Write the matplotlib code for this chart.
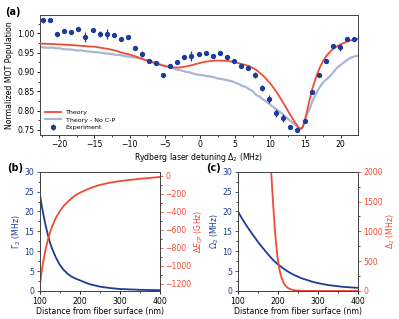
import numpy as np
import matplotlib
matplotlib.use('Agg')
from matplotlib import pyplot as plt
from matplotlib.ticker import AutoMinorLocator

# (a) experiment
detuning = np.linspace(-22.3, 21.9, 45)
population = [1.033, 1.033, 0.999, 1.005, 1.003, 1.012, 0.990, 1.009, 0.998, 0.998,
              0.994, 0.985, 0.990, 0.962, 0.946, 0.929, 0.922, 0.893, 0.916, 0.926,
              0.938, 0.941, 0.946, 0.948, 0.941, 0.950, 0.938, 0.929, 0.915, 0.909,
              0.892, 0.859, 0.829, 0.793, 0.780, 0.758, 0.750, 0.774, 0.849, 0.893,
              0.928, 0.967, 0.963, 0.986, 0.986]
pop_err = [0.006, 0.005, 0.004, 0.004, 0.004, 0.004, 0.014, 0.005, 0.008, 0.014,
           0.004, 0.004, 0.004, 0.004, 0.008, 0.004, 0.004, 0.004, 0.005, 0.004,
           0.004, 0.014, 0.004, 0.004, 0.006, 0.004, 0.004, 0.004, 0.004, 0.005,
           0.008, 0.008, 0.010, 0.010, 0.010, 0.004, 0.006, 0.005, 0.004, 0.004,
           0.004, 0.004, 0.008, 0.004, 0.004]

# (a) theory
th_x = [-22.7, -21, -20, -18, -16, -15, -14, -13, -12, -11, -10, -9, -8, -7, -6, -5,
        -4, -3, -2, -1, 0, 1, 2, 3, 4, 5, 6, 7, 8, 9, 10, 11, 12, 13, 13.5, 14, 14.3,
        14.6, 15, 15.5, 16, 16.5, 17, 17.5, 18, 18.5, 19, 20, 21, 22, 22.45]
th_y = [0.973, 0.972, 0.971, 0.969, 0.966, 0.965, 0.962, 0.959, 0.955, 0.949, 0.945,
        0.939, 0.932, 0.926, 0.920, 0.915, 0.912, 0.911, 0.914, 0.918, 0.923, 0.927,
        0.929, 0.929, 0.928, 0.925, 0.920, 0.915, 0.905, 0.890, 0.870, 0.845, 0.815,
        0.784, 0.770, 0.757, 0.752, 0.757, 0.780, 0.822, 0.858, 0.886, 0.910, 0.928,
        0.942, 0.952, 0.961, 0.971, 0.979, 0.984, 0.985]

nocp_x = [-22.7, -22.2, -21.5, -21, -20.5, -20, -19.5, -19, -18.5, -18, -17.5, -17,
          -16.5, -16, -15.5, -15, -14.5, -14, -13.5, -13, -12.5, -12, -11.5, -11,
          -10.5, -10, -9.5, -9, -8.5, -8, -7.5, -7, -6.5, -6, -5.5, -5, -4.5, -4,
          -3.5, -3, -2.5, -2, -1.5, -1, -0.5, 0, 0.5, 1, 1.5, 2, 2.5, 3, 3.5, 4,
          4.5, 5, 5.5, 6, 6.5, 7, 7.5, 8, 8.5, 9, 9.5, 10, 10.5, 11, 11.5, 12,
          12.5, 13, 13.5, 14, 14.3, 14.6, 15, 15.5, 16, 16.5, 17, 17.5, 18, 18.5,
          19, 19.5, 20, 20.5, 21, 21.5, 22, 22.45]
nocp_y = [0.965, 0.963, 0.962, 0.963, 0.961, 0.961, 0.959, 0.958, 0.958, 0.957,
          0.955, 0.956, 0.954, 0.953, 0.952, 0.951, 0.951, 0.949, 0.948, 0.947,
          0.946, 0.944, 0.944, 0.942, 0.940, 0.939, 0.938, 0.936, 0.935, 0.932,
          0.930, 0.927, 0.925, 0.922, 0.918, 0.916, 0.913, 0.911, 0.907, 0.905,
          0.903, 0.900, 0.899, 0.896, 0.893, 0.892, 0.891, 0.889, 0.888, 0.886,
          0.883, 0.882, 0.880, 0.878, 0.876, 0.872, 0.869, 0.864, 0.861, 0.855,
          0.850, 0.840, 0.836, 0.828, 0.823, 0.815, 0.808, 0.800, 0.795, 0.786,
          0.779, 0.771, 0.763, 0.755, 0.752, 0.757, 0.782, 0.800, 0.825, 0.843,
          0.860, 0.873, 0.881, 0.889, 0.900, 0.911, 0.918, 0.925, 0.932, 0.937,
          0.940, 0.942]

# (b)
dist_b = [100, 105, 110, 115, 120, 125, 130, 140, 150, 160, 170, 180, 190, 200, 225,
          250, 275, 300, 350, 400]
gamma2 = [24.6, 21.5, 18.8, 16.4, 14.3, 12.4, 10.9, 8.5, 6.6, 5.3, 4.3, 3.6, 3.1, 2.7,
          1.7, 1.1, 0.75, 0.5, 0.3, 0.2]
e_cp = [-1230, -1060, -925, -810, -720, -640, -575, -470, -395, -335, -290, -250, -215,
        -190, -140, -103, -78, -60, -35, -15]

# (c)
dist_c = [100, 110, 120, 130, 140, 150, 160, 170, 180, 190, 200, 212, 225, 237, 250,
          262, 275, 287, 300, 312, 325, 337, 350, 362, 375, 387, 400]
omega2 = [20.1, 18.3, 16.7, 15.2, 13.8, 12.4, 11.1, 9.9, 8.7, 7.6, 6.7, 5.8, 4.9, 4.2,
          3.6, 3.1, 2.7, 2.3, 2.0, 1.75, 1.5, 1.35, 1.2, 1.05, 0.95, 0.87, 0.8]
dist_d = [180, 183, 186, 189, 192, 195, 198, 201, 205, 210, 215, 220, 225, 230, 238,
          250, 265, 290, 330, 400]
delta2 = [2600, 2050, 1700, 1380, 1080, 840, 640, 480, 330, 205, 130, 82, 52, 33, 17,
          7, 2.5, 0.6, 0.1, 0]

RED = '#f24a35'
BLUE = '#1c3c99'
GRAY = '#a9b7d2'
FS = 5.6

plt.rcParams['font.size'] = FS
plt.rcParams['axes.linewidth'] = 0.7
plt.rcParams['axes.edgecolor'] = '#444444'
for ax_ in 'xy':
    plt.rcParams[ax_ + 'tick.major.size'] = 2.5
    plt.rcParams[ax_ + 'tick.minor.size'] = 1.5
    plt.rcParams[ax_ + 'tick.major.width'] = 0.6
    plt.rcParams[ax_ + 'tick.minor.width'] = 0.5
    plt.rcParams[ax_ + 'tick.major.pad'] = 1.5

fig = plt.figure(figsize=(3.99, 3.19), dpi=100)

# ---- panel a
ax = fig.add_axes([0.100, 0.577, 0.797, 0.376])
ax.plot(th_x, th_y, color=RED, lw=1.3, label='Theory', zorder=3)
ax.plot(nocp_x, nocp_y, color=GRAY, lw=1.6, label='Theory - No C-P', zorder=2)
ax.errorbar(detuning, population, yerr=pop_err, fmt='o', ms=2.8, color=BLUE,
            elinewidth=0.9, capsize=0, label='Experiment', zorder=4)
ax.set_xlim(-22.75, 22.45)
ax.set_ylim(0.737, 1.047)
ax.set_xticks([-20, -15, -10, -5, 0, 5, 10, 15, 20])
ax.set_yticks([0.75, 0.80, 0.85, 0.90, 0.95, 1.00])
ax.xaxis.set_minor_locator(AutoMinorLocator(2))
ax.yaxis.set_minor_locator(AutoMinorLocator(2))
ax.set_xlabel(r'Rydberg laser detuning $\Delta_2$ (MHz)', labelpad=1)
ax.set_ylabel('Normalized MOT Population', labelpad=2)
ax.legend(loc='lower left', fontsize=4.5, frameon=False, handlelength=2.5,
          borderaxespad=0.4, labelspacing=0.3)

# ---- panel b
axb = fig.add_axes([0.0995, 0.0878, 0.301, 0.374])
axb.plot(dist_b, gamma2, color=BLUE, lw=1.3)
axb.set_xlim(100, 400)
axb.set_ylim(0, 30)
axb.set_xticks([100, 200, 300, 400])
axb.xaxis.set_minor_locator(AutoMinorLocator(2))
axb.yaxis.set_minor_locator(AutoMinorLocator(2))
axb.set_ylabel(r'$\Gamma_2$ (MHz)', color=BLUE, labelpad=1)
axb.tick_params(axis='y', colors=BLUE, labelcolor=BLUE)
axb.set_xlabel('Distance from fiber surface (nm)', labelpad=1)
axb2 = axb.twinx()
axb2.plot(dist_b, e_cp, color=RED, lw=1.3)
axb2.set_ylim(-1278, 44)
axb2.set_yticks([0, -200, -400, -600, -800, -1000, -1200])
axb2.yaxis.set_minor_locator(AutoMinorLocator(2))
axb2.tick_params(axis='y', colors=RED, labelcolor=RED)
axb2.set_ylabel(r'$\Delta E_{CP}$ (GHz)', color=RED, labelpad=1)

# ---- panel c
axc = fig.add_axes([0.596, 0.0878, 0.301, 0.374])
axc.plot(dist_c, omega2, color=BLUE, lw=1.3)
axc.set_xlim(100, 400)
axc.set_ylim(0, 30)
axc.set_xticks([100, 200, 300, 400])
axc.xaxis.set_minor_locator(AutoMinorLocator(2))
axc.yaxis.set_minor_locator(AutoMinorLocator(2))
axc.set_ylabel(r'$\Omega_2$ (MHz)', color=BLUE, labelpad=1)
axc.tick_params(axis='y', colors=BLUE, labelcolor=BLUE)
axc.set_xlabel('Distance from fiber surface (nm)', labelpad=1)
axc2 = axc.twinx()
axc2.plot(dist_d, delta2, color=RED, lw=1.3)
axc2.set_ylim(0, 2000)
axc2.set_yticks([0, 500, 1000, 1500, 2000])
axc2.yaxis.set_minor_locator(AutoMinorLocator(2))
axc2.tick_params(axis='y', colors=RED, labelcolor=RED)
axc2.set_ylabel(r'$\Delta_2$ (MHz)', color=RED, labelpad=1)

fig.text(0.012, 0.962, '(a)', fontsize=7, fontweight='bold', va='center')
fig.text(0.018, 0.473, '(b)', fontsize=7, fontweight='bold', va='center')
fig.text(0.516, 0.473, '(c)', fontsize=7, fontweight='bold', va='center')

fig.savefig('out.png', dpi=100)
